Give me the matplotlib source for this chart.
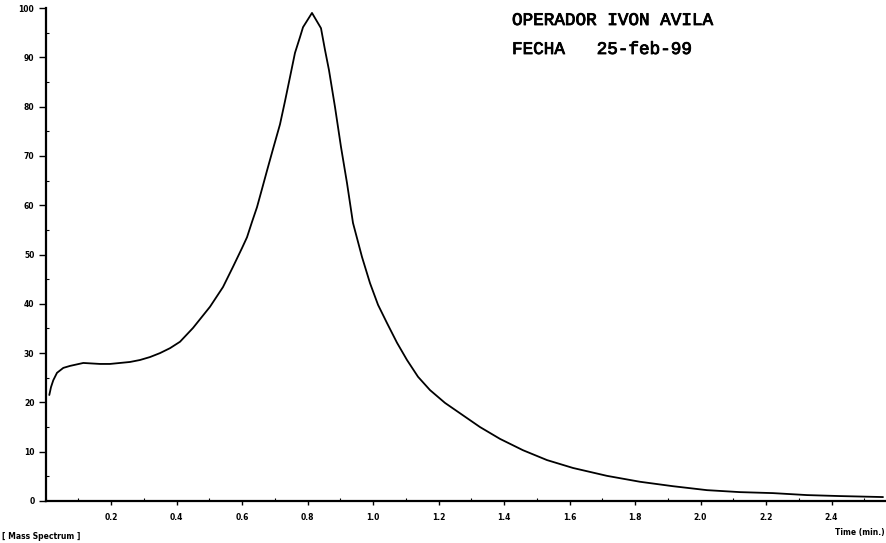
import matplotlib
matplotlib.use("Agg")
import matplotlib.pyplot as plt
import matplotlib.patheffects as pe
from matplotlib.ticker import MultipleLocator, FixedLocator

# Data (time in min, relative abundance %)
time_min = [0.0116, 0.0168, 0.0238, 0.0351, 0.0544, 0.0748, 0.1154, 0.1664,
            0.1969, 0.2275, 0.2580, 0.2885, 0.3191, 0.3496, 0.3802, 0.4107,
            0.4504, 0.5023, 0.5420, 0.5725, 0.6000, 0.6153, 0.6305, 0.6458,
            0.6611, 0.6763, 0.6947, 0.7160, 0.7313, 0.7466, 0.7618, 0.7771,
            0.7863, 0.8137, 0.8412, 0.8534, 0.8656, 0.8840, 0.9023, 0.9206,
            0.9389, 0.9664, 0.9908, 1.0153, 1.0427, 1.0733, 1.1038, 1.1374,
            1.1740, 1.2198, 1.2656, 1.3267, 1.3878, 1.4580, 1.5313, 1.6107,
            1.7145, 1.8153, 1.9160, 2.0198, 2.1206, 2.2214, 2.3252, 2.4260,
            2.5573]
abundance = [21.5, 23.1, 24.5, 26.0, 27.0, 27.4, 28.0, 27.8,
             27.8, 28.0, 28.2, 28.6, 29.2, 30.0, 31.0, 32.3,
             35.1, 39.4, 43.4, 47.5, 51.3, 53.5, 56.6, 59.6,
             63.3, 67.0, 71.4, 76.4, 81.1, 86.0, 90.9, 94.1,
             96.1, 99.0, 95.9, 91.5, 87.4, 79.9, 71.8, 64.5,
             56.4, 49.5, 44.2, 39.8, 36.1, 32.1, 28.6, 25.2,
             22.5, 19.9, 17.8, 15.0, 12.6, 10.3, 8.3, 6.7,
             5.1, 3.9, 3.0, 2.2, 1.8, 1.6, 1.2, 1.0,
             0.8]

x_ticks = [0.2, 0.4, 0.6, 0.8, 1.0, 1.2, 1.4, 1.6, 1.8, 2.0, 2.2, 2.4]
x_tick_labels = ["0.2", "0.4", "0.6", "0.8", "1.0", "1.2", "1.4", "1.6",
                 "1.8", "2.0", "2.2", "2.4"]
y_ticks = [0, 10, 20, 30, 40, 50, 60, 70, 80, 90, 100]
y_tick_labels = ["0", "10", "20", "30", "40", "50", "60", "70", "80", "90", "100"]

operator_text = "OPERADOR IVON AVILA"
date_text = "FECHA   25-feb-99"
footer_left = "[ Mass Spectrum ]"
footer_right = "Time (min.)"

W, H = 886, 543
fig = plt.figure(figsize=(W / 100, H / 100), dpi=100)
fig.patch.set_facecolor("white")

left = 45.5 / W
bottom = (H - 501) / H
top = (H - 8) / H
ax = fig.add_axes([left, bottom, 1.0 - left, top - bottom])

ax.plot(time_min, abundance, color="black", linewidth=1.3,
        solid_joinstyle="round", solid_capstyle="round")

ax.set_xlim(0, (W - 45.5) / 327.5)
ax.set_ylim(0, 100)

for s in ("top", "right"):
    ax.spines[s].set_visible(False)
for s in ("left", "bottom"):
    ax.spines[s].set_linewidth(1.6)
    ax.spines[s].set_color("black")

ax.xaxis.set_major_locator(FixedLocator(x_ticks))
ax.set_xticklabels(x_tick_labels)
ax.xaxis.set_minor_locator(MultipleLocator(0.1))
ax.yaxis.set_major_locator(FixedLocator(y_ticks))
ax.set_yticklabels(y_tick_labels)
ax.yaxis.set_minor_locator(MultipleLocator(5))

ax.tick_params(axis="x", which="major", direction="out", length=3, width=1,
               pad=6, labelsize=5.5)
ax.tick_params(axis="x", which="minor", direction="in", length=2, width=0.8)
ax.tick_params(axis="y", which="major", direction="out", length=5, width=1,
               pad=3, labelsize=5.5)
ax.tick_params(axis="y", which="minor", direction="in", length=2, width=0.8)
for lbl in ax.get_xticklabels() + ax.get_yticklabels():
    lbl.set_fontweight("bold")
    lbl.set_family("DejaVu Sans")

stroke = [pe.withStroke(linewidth=0.6, foreground="black")]
fig.text(512 / W, 1 - 25 / H, operator_text, family="Liberation Mono",
         fontsize=12.7, color="black", ha="left", va="baseline",
         path_effects=stroke)
fig.text(512 / W, 1 - 54 / H, date_text, family="Liberation Mono",
         fontsize=12.7, color="black", ha="left", va="baseline",
         path_effects=stroke)

fig.text(2 / W, 1 - 539 / H, footer_left, family="DejaVu Sans",
         fontsize=5.5, fontweight="bold", ha="left", va="baseline")
fig.text(885 / W, 1 - 535 / H, footer_right, family="DejaVu Sans",
         fontsize=5.5, fontweight="bold", ha="right", va="baseline")

fig.savefig("out.png", dpi=100, facecolor="white")
